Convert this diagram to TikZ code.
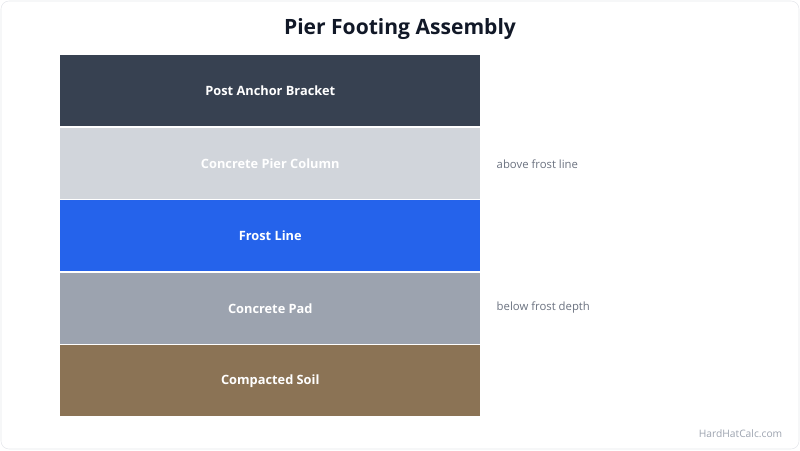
\documentclass[tikz,border=0pt]{standalone}
\usepackage{fontspec}
\setmainfont{Open Sans}
\usetikzlibrary{positioning}

\definecolor{anchorcol}{HTML}{374151}
\definecolor{piercol}{HTML}{D1D5DB}
\definecolor{frostcol}{HTML}{2563EB}
\definecolor{padcol}{HTML}{9CA3AF}
\definecolor{soilcol}{HTML}{8B7355}
\definecolor{titlecol}{HTML}{111827}
\definecolor{notecol}{HTML}{6B7280}
\definecolor{framecol}{HTML}{E5E7EB}

\tikzset{
  layer/.style={minimum width=315pt, minimum height=53.25pt, inner sep=0pt,
    text=white, font=\fontsize{9.6}{12}\selectfont\bfseries},
  note/.style={anchor=west, text=notecol, font=\fontsize{8.5}{11}\selectfont},
}

\begin{document}
\begin{tikzpicture}[x=0.75pt,y=-0.75pt]
\useasboundingbox (0,0) rectangle (800,450);
\draw[framecol, rounded corners=6pt] (1,1) rectangle (799,449);

\node[text=titlecol, font=\fontsize{15.8}{18}\selectfont\bfseries] (title) at (400,29) {Pier Footing Assembly};

\node[layer, fill=anchorcol, anchor=north west] (anchor) at (60,55) {Post Anchor Bracket};
\node[layer, fill=piercol, below=0.75pt of anchor] (pier) {Concrete Pier Column};
\node[layer, fill=frostcol, below=0.75pt of pier] (frost) {Frost Line};
\node[layer, fill=padcol, below=0.75pt of frost] (pad) {Concrete Pad};
\node[layer, fill=soilcol, below=0.75pt of pad] (soil) {Compacted Soil};

\node[note] (above) at (492,164) {above frost line};
\node[note] (below) at (492,308) {below frost depth};

\node[text=padcol, anchor=east, font=\fontsize{7.7}{10}\selectfont] (mark) at (787,434) {HardHatCalc.com};
\end{tikzpicture}
\end{document}
